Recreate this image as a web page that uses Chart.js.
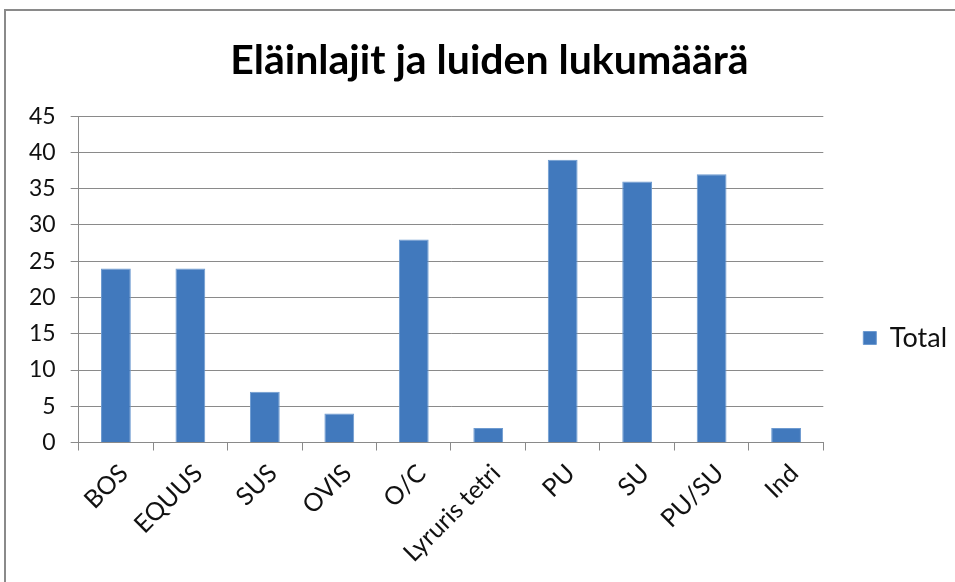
<!DOCTYPE html>
<html>
<head>
<meta charset="utf-8">
<script src="https://cdn.jsdelivr.net/npm/chart.js@4"></script>
<style>
    html, body { margin: 0; padding: 0; background: #fff; overflow: hidden; }
    #wrap { position: relative; width: 955px; height: 582px; }
    #frame {
        position: absolute; left: 4px; top: 9px; width: 1000px; height: 1000px;
        border-left: 2px solid #8a8a8a; border-top: 2px solid #8a8a8a;
    }
    canvas { position: absolute; left: 0; top: 0; }
</style>
</head>
<body>
<div id="wrap">
    <div id="frame"></div>
    <canvas id="chart" width="955" height="582"></canvas>
</div>
<script>
"use strict";

const chartTitle = "Eläinlajit ja luiden lukumäärä";
const categories = ["BOS", "EQUUS", "SUS", "OVIS", "O/C", "Lyruris tetri", "PU", "SU", "PU/SU", "Ind"];
const totals = [24, 24, 7, 4, 28, 2, 39, 36, 37, 2];
const seriesName = "Total";
const yMax = 45;
const yStep = 5;

(() => {
    const ctx = document.getElementById("chart");
    const fontFamily = "Lato, 'Open Sans', sans-serif";

    // Excel centres the title on the whole frame and puts the legend
    // further right and lower than Chart.js does, so nudge both boxes
    const boxShift = {
        id: "boxShift",
        afterLayout(chart) {
            const move = (box, dx, dy) => {
                if (!box) return;
                box.left += dx;
                box.right += dx;
                box.top += dy;
                box.bottom += dy;
            };
            move(chart.legend, 30, 32);
            move(chart.titleBlock, 19, 0);
        }
    };

    new Chart(ctx, {
        type: "bar",
        data: {
            labels: categories,
            datasets: [{
                label: seriesName,
                data: totals,
                backgroundColor: "#4179bd",
                borderColor: "#6d9ad0",
                borderWidth: 1,
                categoryPercentage: 1,
                barPercentage: 0.4
            }]
        },
        plugins: [boxShift],
        options: {
            responsive: false,
            animation: false,
            layout: {
                padding: { left: 14, right: 28, top: 36, bottom: 6 }
            },
            plugins: {
                title: {
                    display: true,
                    text: chartTitle,
                    color: "#000",
                    font: { family: fontFamily, size: 41, weight: "bold" },
                    padding: { top: 0, bottom: 31 }
                },
                legend: {
                    position: "right",
                    labels: {
                        boxWidth: 13,
                        boxHeight: 13,
                        padding: 10,
                        color: "#111",
                        font: { family: fontFamily, size: 27 }
                    }
                },
                tooltip: { enabled: false }
            },
            scales: {
                x: {
                    grid: {
                        offset: true,
                        drawOnChartArea: false,
                        drawTicks: true,
                        tickLength: 8,
                        color: "#8a8a8a"
                    },
                    border: { color: "#8a8a8a", width: 1 },
                    ticks: {
                        minRotation: 45,
                        maxRotation: 45,
                        padding: 8,
                        labelOffset: 8,
                        color: "#111",
                        font: { family: fontFamily, size: 25 }
                    }
                },
                y: {
                    min: 0,
                    max: yMax,
                    ticks: {
                        stepSize: yStep,
                        padding: 15,
                        color: "#111",
                        font: { family: fontFamily, size: 23 }
                    },
                    grid: {
                        color: "#8a8a8a",
                        tickLength: 8
                    },
                    border: { color: "#8a8a8a", width: 1 }
                }
            }
        }
    });
})();
</script>
</body>
</html>
